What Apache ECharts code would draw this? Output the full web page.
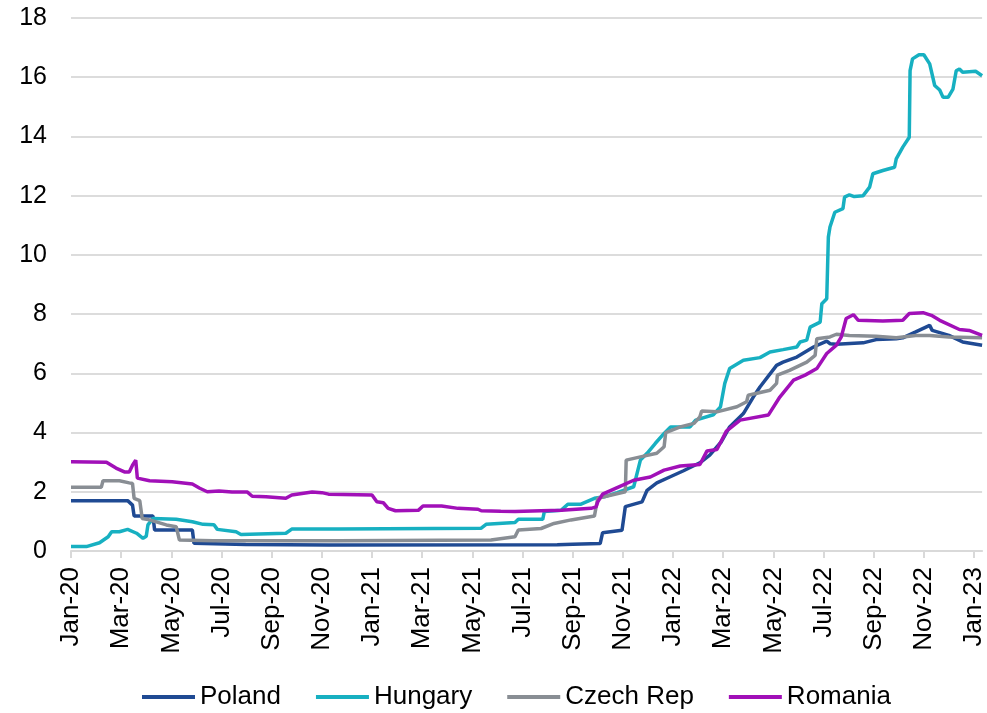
<!DOCTYPE html>
<html>
<head>
<meta charset="utf-8">
<script src="https://cdn.jsdelivr.net/npm/echarts@6/dist/echarts.min.js"></script>
<style>
html,body{margin:0;padding:0;background:#fff;}
#chart{width:987px;height:713px;}
</style>
</head>
<body>
<div id="chart"></div>
<script>
// ---- data (date, value) ----
const seriesNames = ['Poland', 'Hungary', 'Czech Rep', 'Romania'];
const monthLabels = ['Jan','Feb','Mar','Apr','May','Jun','Jul','Aug','Sep','Oct','Nov','Dec'];
const yTicks = [0, 2, 4, 6, 8, 10, 12, 14, 16, 18];

const poland = [
  ['2020-01-01',1.70],['2020-03-09',1.70],['2020-03-15',1.55],['2020-03-17',1.18],['2020-04-09',1.18],
  ['2020-04-11',0.71],['2020-05-27',0.71],['2020-05-29',0.26],['2020-07-31',0.22],['2020-11-09',0.20],
  ['2021-08-13',0.21],['2021-09-01',0.23],['2021-10-04',0.25],['2021-10-07',0.62],['2021-10-31',0.70],
  ['2021-11-04',1.50],['2021-11-24',1.66],['2021-11-30',2.05],['2021-12-12',2.30],['2021-12-28',2.50],
  ['2022-01-14',2.71],['2022-02-03',2.98],['2022-02-14',3.24],['2022-02-27',3.69],['2022-03-09',4.19],
  ['2022-03-26',4.64],['2022-04-07',5.20],['2022-04-15',5.54],['2022-05-05',6.27],['2022-05-13',6.38],
  ['2022-05-30',6.55],['2022-06-19',6.89],['2022-07-05',7.09],['2022-07-09',7.00],['2022-07-17',6.98],
  ['2022-08-19',7.03],['2022-09-04',7.14],['2022-09-28',7.17],['2022-10-06',7.20],['2022-10-22',7.40],
  ['2022-11-08',7.62],['2022-11-11',7.45],['2022-12-01',7.28],['2022-12-18',7.06],['2023-01-11',6.95]
];

const hungary = [
  ['2020-01-01',0.15],['2020-01-20',0.15],['2020-02-05',0.28],['2020-02-15',0.48],['2020-02-19',0.65],
  ['2020-02-28',0.65],['2020-03-09',0.73],['2020-03-20',0.60],['2020-03-28',0.43],['2020-04-01',0.50],
  ['2020-04-03',0.88],['2020-04-09',1.10],['2020-05-07',1.07],['2020-05-27',0.99],['2020-06-09',0.90],
  ['2020-06-22',0.89],['2020-06-26',0.73],['2020-07-19',0.65],['2020-07-25',0.56],['2020-09-18',0.60],
  ['2020-09-25',0.74],['2020-11-21',0.74],['2021-05-12',0.77],['2021-05-18',0.90],['2021-06-22',0.96],
  ['2021-06-26',1.07],['2021-07-26',1.07],['2021-07-28',1.33],['2021-08-18',1.38],['2021-08-26',1.58],
  ['2021-09-11',1.58],['2021-09-27',1.78],['2021-10-09',1.83],['2021-10-25',1.97],['2021-11-14',2.17],
  ['2021-11-22',3.07],['2021-11-30',3.30],['2021-12-10',3.63],['2021-12-21',3.97],['2021-12-29',4.19],
  ['2022-01-22',4.19],['2022-01-29',4.42],['2022-02-18',4.60],['2022-02-26',4.87],['2022-03-03',5.66],
  ['2022-03-09',6.16],['2022-03-26',6.44],['2022-04-15',6.53],['2022-04-27',6.72],['2022-05-13',6.80],
  ['2022-05-30',6.89],['2022-06-03',7.06],['2022-06-11',7.12],['2022-06-15',7.56],['2022-06-27',7.73],
  ['2022-06-29',8.35],['2022-07-05',8.52],['2022-07-07',10.60],['2022-07-09',10.94],['2022-07-15',11.44],
  ['2022-07-25',11.56],['2022-07-27',11.95],['2022-08-02',12.03],['2022-08-08',11.97],['2022-08-19',12.00],
  ['2022-08-27',12.29],['2022-08-31',12.74],['2022-09-12',12.85],['2022-09-26',12.96],['2022-09-28',13.24],
  ['2022-10-06',13.64],['2022-10-14',13.97],['2022-10-15',16.22],['2022-10-18',16.62],['2022-10-26',16.76],
  ['2022-11-01',16.76],['2022-11-08',16.45],['2022-11-14',15.72],['2022-11-20',15.57],['2022-11-24',15.32],
  ['2022-11-30',15.32],['2022-12-06',15.60],['2022-12-10',16.22],['2022-12-14',16.28],['2022-12-18',16.17],
  ['2023-01-03',16.20],['2023-01-11',16.05]
];

const czech = [
  ['2020-01-01',2.15],['2020-02-07',2.15],['2020-02-09',2.37],['2020-02-28',2.37],['2020-03-11',2.30],
  ['2020-03-15',2.28],['2020-03-17',1.78],['2020-03-24',1.70],['2020-03-27',1.10],['2020-04-05',1.05],
  ['2020-04-25',0.88],['2020-05-07',0.82],['2020-05-11',0.37],['2020-06-21',0.35],['2020-11-21',0.35],
  ['2021-05-24',0.37],['2021-06-22',0.48],['2021-06-26',0.71],['2021-07-24',0.76],['2021-08-09',0.93],
  ['2021-08-30',1.05],['2021-09-27',1.18],['2021-09-29',1.21],['2021-10-01',1.78],['2021-11-04',2.00],
  ['2021-11-05',3.07],['2021-11-22',3.18],['2021-12-12',3.30],['2021-12-21',3.52],['2021-12-23',4.00],
  ['2022-01-10',4.19],['2022-01-27',4.31],['2022-02-03',4.53],['2022-02-05',4.73],['2022-02-22',4.70],
  ['2022-03-18',4.87],['2022-03-30',5.04],['2022-04-01',5.26],['2022-04-27',5.43],['2022-05-05',5.66],
  ['2022-05-06',5.94],['2022-05-21',6.10],['2022-06-11',6.38],['2022-06-21',6.61],['2022-06-23',7.17],
  ['2022-07-09',7.23],['2022-07-17',7.32],['2022-08-02',7.28],['2022-09-04',7.25],['2022-09-28',7.20],
  ['2022-10-22',7.28],['2022-11-08',7.28],['2022-12-01',7.23],['2023-01-11',7.20]
];

const romania = [
  ['2020-01-01',3.01],['2020-02-13',3.00],['2020-02-24',2.80],['2020-03-05',2.67],['2020-03-11',2.67],
  ['2020-03-15',2.90],['2020-03-19',3.07],['2020-03-21',2.46],['2020-04-05',2.37],['2020-05-02',2.34],
  ['2020-05-27',2.26],['2020-06-05',2.12],['2020-06-14',2.00],['2020-06-28',2.03],['2020-07-14',1.99],
  ['2020-08-02',1.99],['2020-08-08',1.85],['2020-08-25',1.83],['2020-09-18',1.78],['2020-09-25',1.89],
  ['2020-10-20',1.99],['2020-11-01',1.97],['2020-11-09',1.92],['2021-01-01',1.89],['2021-01-07',1.66],
  ['2021-01-15',1.63],['2021-01-21',1.44],['2021-01-30',1.36],['2021-02-25',1.38],['2021-03-02',1.52],
  ['2021-03-25',1.52],['2021-04-14',1.44],['2021-05-08',1.41],['2021-05-12',1.36],['2021-06-05',1.34],
  ['2021-06-22',1.33],['2021-07-24',1.36],['2021-08-18',1.38],['2021-09-23',1.44],['2021-09-29',1.49],
  ['2021-10-01',1.66],['2021-10-07',1.92],['2021-10-25',2.14],['2021-11-14',2.39],['2021-12-04',2.50],
  ['2021-12-21',2.73],['2022-01-10',2.87],['2022-02-03',2.92],['2022-02-11',3.38],['2022-02-22',3.43],
  ['2022-03-05',4.05],['2022-03-22',4.42],['2022-04-25',4.59],['2022-05-09',5.20],['2022-05-26',5.77],
  ['2022-06-09',5.94],['2022-06-23',6.16],['2022-07-05',6.67],['2022-07-17',6.95],['2022-07-23',7.23],
  ['2022-07-29',7.85],['2022-08-07',7.98],['2022-08-13',7.79],['2022-09-12',7.77],['2022-10-06',7.79],
  ['2022-10-14',8.02],['2022-10-31',8.05],['2022-11-10',7.96],['2022-11-20',7.79],['2022-12-14',7.48],
  ['2022-12-26',7.45],['2023-01-11',7.28]
];

const axisStart = '2020-01-01';
const axisEnd = '2023-01-11';

// convert a date to a month position (months since Jan 2020)
function monthPos(str) {
  const [y, m, d] = str.split('-').map(Number);
  const dim = new Date(y, m, 0).getDate();
  return (y - 2020) * 12 + (m - 1) + (d - 1) / dim;
}
function toSeries(arr) { return arr.map(p => [monthPos(p[0]), p[1]]); }

const colors = ['#1f4a93', '#17b0c1', '#898e94', '#a110b8'];
const allData = [poland, hungary, czech, romania];
const FONT = "'Liberation Sans', Arial, sans-serif";

const chart = echarts.init(document.getElementById('chart'), null, {renderer: 'canvas'});
chart.setOption({
  animation: false,
  color: colors,
  grid: {left: 71, top: 18, right: 0, bottom: 162, containLabel: false},
  legend: {
    data: seriesNames,
    left: 142, top: 684, padding: 0,
    icon: 'rect',
    itemWidth: 53, itemHeight: 4, itemGap: 35,
    textStyle: {fontFamily: FONT, fontSize: 26, color: '#000'}
  },
  xAxis: {
    type: 'value',
    min: monthPos(axisStart), max: monthPos(axisEnd), interval: 2,
    splitLine: {show: false},
    axisLine: {lineStyle: {color: '#d9d9d9', width: 2}},
    axisTick: {show: true, length: 7, lineStyle: {color: '#d9d9d9', width: 2}},
    axisLabel: {
      rotate: 90, margin: 16, fontFamily: FONT, fontSize: 26, color: '#000',
      showMaxLabel: false,
      formatter: function (v) {
        const r = Math.round(v);
        if (Math.abs(v - r) > 1e-6 || r % 2 !== 0) return '';
        const yy = 20 + Math.floor(r / 12);
        return monthLabels[r % 12] + '-' + yy;
      }
    }
  },
  yAxis: {
    type: 'value', min: yTicks[0], max: yTicks[yTicks.length - 1], interval: 2,
    axisLine: {show: false}, axisTick: {show: false},
    splitLine: {lineStyle: {color: '#dcdcdc', width: 2}},
    axisLabel: {margin: 24, fontFamily: FONT, fontSize: 25, color: '#000'}
  },
  series: seriesNames.map((name, i) => ({
    name: name, type: 'line', data: toSeries(allData[i]),
    symbol: 'none', showSymbol: false, smooth: false,
    lineStyle: {width: 3.5, color: colors[i]},
    itemStyle: {color: colors[i]}
  }))
});
</script>
</body>
</html>
